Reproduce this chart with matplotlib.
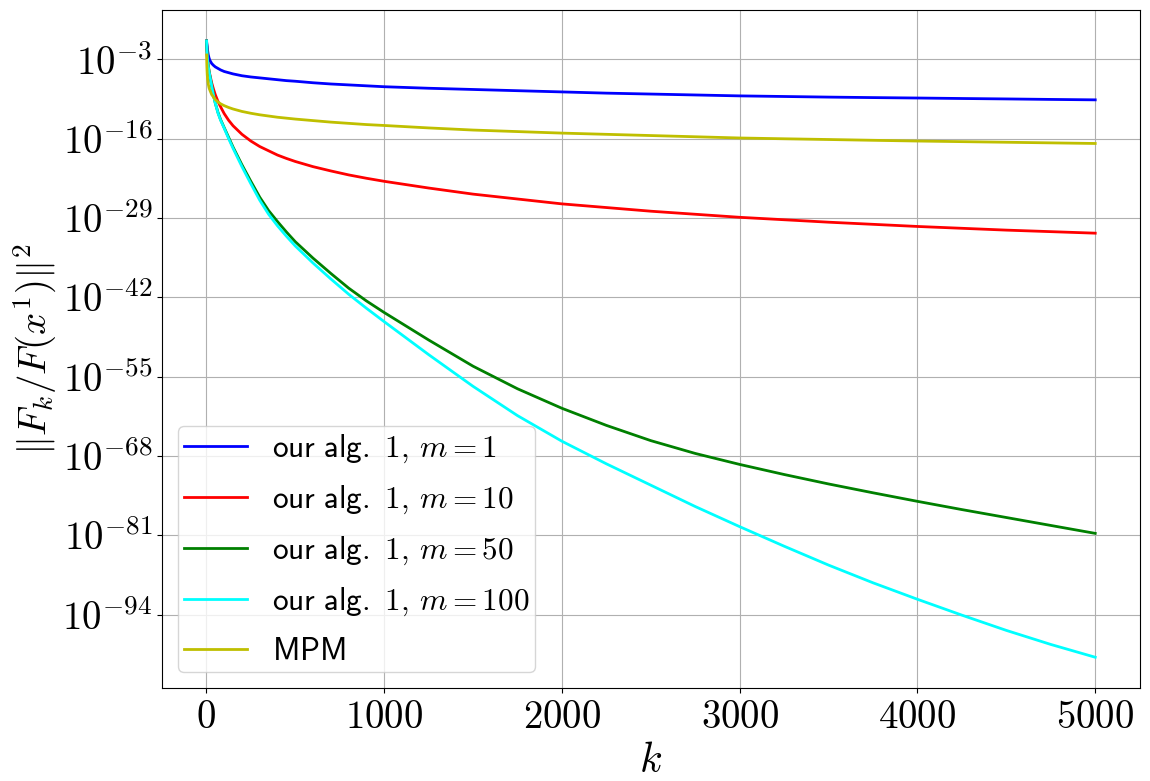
import numpy as np
import matplotlib
matplotlib.use("Agg")
import matplotlib.pyplot as plt
from matplotlib.ticker import FixedLocator, FuncFormatter, NullLocator

plt.rcParams['mathtext.fontset'] = 'cm'

k = [1, 2, 3, 5, 7, 10, 15, 20, 30, 40, 50, 65, 80, 100, 125, 150, 200, 250, 300, 350,
     400, 450, 500, 600, 700, 800, 900, 1000, 1250, 1500, 1750, 2000, 2250, 2500, 2750,
     3000, 3250, 3500, 3750, 4000, 4250, 4500, 4750, 5000]

# log10 of ||F_k / F(x^1)||^2 for each method
exp_m1 = [0, -0.4, -0.6, -1.0, -1.6, -2.2, -2.8, -3.2, -3.7, -4.0, -4.25, -4.5, -4.75,
          -5.0, -5.2, -5.4, -5.7, -5.9, -6.05, -6.2, -6.35, -6.5, -6.6, -6.85, -7.05,
          -7.2, -7.35, -7.5, -7.75, -7.95, -8.15, -8.35, -8.55, -8.7, -8.85, -9.0, -9.1,
          -9.2, -9.28, -9.35, -9.43, -9.5, -9.58, -9.65]
exp_m10 = [0, -0.8, -1.5, -2.4, -3.1, -3.9, -4.9, -5.6, -6.9, -7.9, -8.8, -9.9, -10.8,
           -11.9, -13.0, -13.9, -15.3, -16.4, -17.3, -18.0, -18.7, -19.25, -19.75, -20.6,
           -21.3, -21.95, -22.5, -23.0, -24.1, -25.1, -25.9, -26.7, -27.3, -27.9, -28.4,
           -28.9, -29.3, -29.7, -30.05, -30.4, -30.7, -31.0, -31.25, -31.5]
exp_m50 = [0, -0.9, -1.6, -2.6, -3.3, -4.1, -5.0, -5.8, -7.4, -8.9, -10.2, -11.7, -12.9,
           -14.2, -15.8, -17.4, -20.3, -23.0, -25.6, -27.8, -29.6, -31.3, -32.9, -35.6,
           -38.1, -40.5, -42.6, -44.5, -49.0, -53.3, -57.0, -60.2, -63.0, -65.5, -67.6,
           -69.4, -71.05, -72.6, -74.05, -75.45, -76.8, -78.1, -79.4, -80.7]
exp_m100 = [0, -0.9, -1.6, -2.6, -3.3, -4.1, -5.0, -5.8, -7.4, -8.9, -10.2, -11.8, -13.0,
            -14.3, -16.0, -17.6, -20.6, -23.4, -26.1, -28.4, -30.3, -32.0, -33.6, -36.4,
            -39.0, -41.5, -43.8, -46.0, -51.4, -56.6, -61.4, -65.6, -69.3, -72.8, -76.3,
            -79.6, -82.8, -85.9, -88.8, -91.5, -94.1, -96.6, -98.9, -101.0]
exp_mpm = [-2.3, -3.5, -4.4, -5.6, -6.3, -7.0, -7.7, -8.1, -8.8, -9.2, -9.6, -10.0, -10.3,
           -10.6, -10.9, -11.15, -11.55, -11.85, -12.1, -12.3, -12.5, -12.65, -12.8, -13.05,
           -13.3, -13.5, -13.7, -13.85, -14.25, -14.6, -14.85, -15.1, -15.3, -15.5, -15.7,
           -15.9, -16.03, -16.15, -16.28, -16.4, -16.5, -16.6, -16.7, -16.8]

labels = [r'$\mathsf{our\ alg.}\ 1,\,m=1$', r'$\mathsf{our\ alg.}\ 1,\,m=10$',
          r'$\mathsf{our\ alg.}\ 1,\,m=50$', r'$\mathsf{our\ alg.}\ 1,\,m=100$',
          r'$\mathsf{MPM}$']
colors = ['b', 'r', 'g', 'cyan', 'y']

ytick_exps = [-3, -16, -29, -42, -55, -68, -81, -94]
xticks = [0, 1000, 2000, 3000, 4000, 5000]

fig = plt.figure(figsize=(11.5, 7.81), dpi=100)
ax = fig.add_axes([0.141, 0.119, 0.85, 0.868])

series = [exp_m1, exp_m10, exp_m50, exp_m100, exp_mpm]
for ex, lab, c in zip(series, labels, colors):
    ax.plot(k, 10.0 ** np.array(ex), color=c, lw=2.0, label=lab)

ax.set_yscale('log')
ax.yaxis.set_major_locator(FixedLocator([10.0 ** e for e in ytick_exps]))
ax.yaxis.set_minor_locator(NullLocator())
ax.yaxis.set_major_formatter(FuncFormatter(lambda v, p: r'$10^{%d}$' % round(np.log10(v))))
ax.set_xticks(xticks)
ax.xaxis.set_major_formatter(FuncFormatter(lambda v, p: r'$%d$' % v))
ax.tick_params(labelsize=28)

ax.set_xlabel(r'$k$', fontsize=30, labelpad=2)
ax.set_ylabel(r'$\|F_k/F(x^1)\|^2$', fontsize=28, labelpad=2)
ax.grid(True)
ax.legend(loc='lower left', fontsize=22.5, borderpad=0.2, labelspacing=0.6)

fig.savefig('out.png', dpi=100)
